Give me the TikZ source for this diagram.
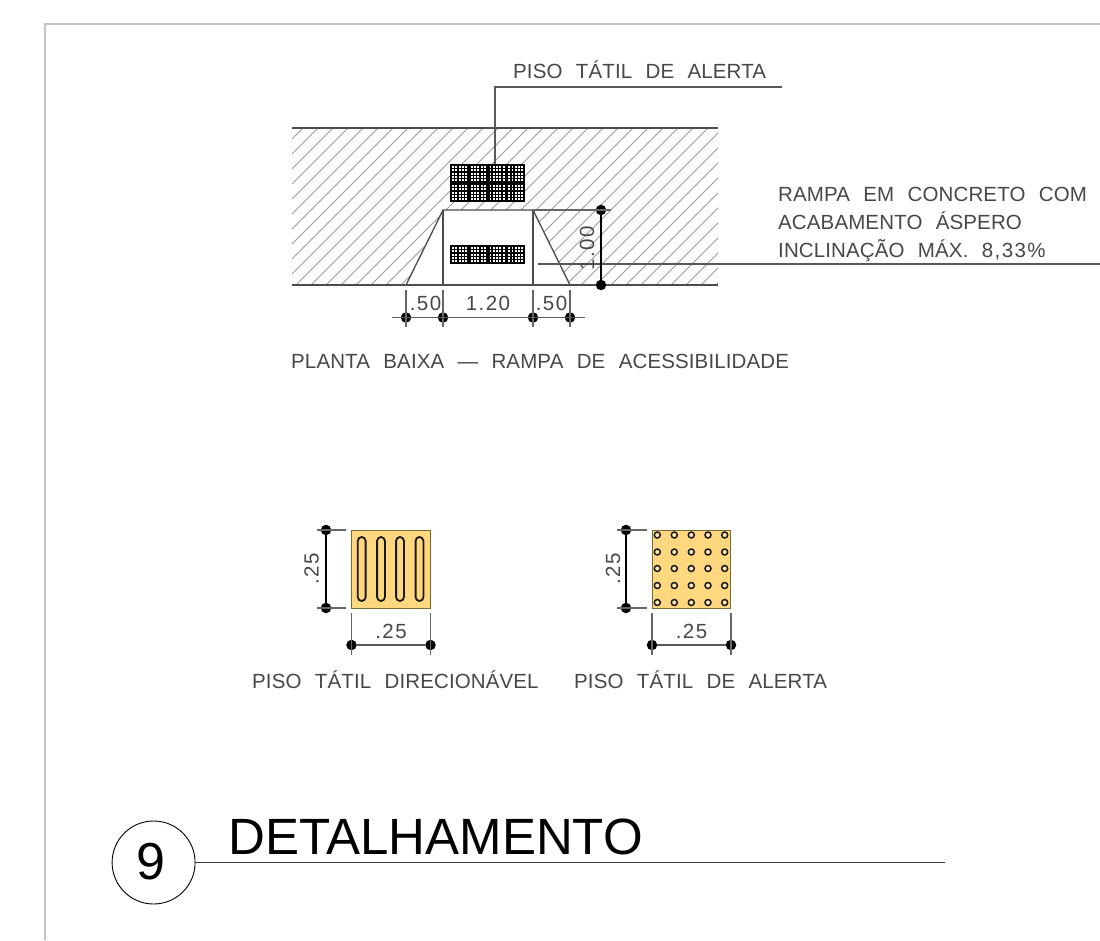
\documentclass[tikz,border=0pt]{standalone}
\usepackage{fontspec}
\setmainfont{Liberation Sans}
\newfontfamily\cadfont[LetterSpace=0.6,WordSpace=2.3]{Liberation Sans}
\newfontfamily\dimfont[LetterSpace=7]{Liberation Sans}
\definecolor{tileyellow}{HTML}{FFD77F}
\definecolor{tileedge}{HTML}{7A6A3A}
\definecolor{dimgray}{HTML}{666666}
\definecolor{hatchgray}{HTML}{9A9A9A}
\definecolor{framegray}{HTML}{C4C4C4}
\tikzset{
  cadtext/.style={font=\cadfont\fontsize{20.5}{20.5}\selectfont,text=black!72,inner sep=0,anchor=base west},
  dimtext/.style={font=\dimfont\fontsize{20.5}{20.5}\selectfont,text=black!72,inner sep=0},
  dimdot/.style={circle,fill=black,inner sep=0,minimum size=10.5pt},
  dimline/.style={draw=black!65,line width=1.1pt},
  extline/.style={draw=dimgray,line width=1.1pt},
  edgeline/.style={draw=black!70,line width=1.3pt},
  hatchline/.style={draw=hatchgray,line width=0.85pt},
  leader/.style={draw=black!65,line width=1.1pt},
  yellowtile/.style={fill=tileyellow,draw=tileedge,line width=0.9pt},
  slotbar/.style={draw=black!90,line width=1.8pt,rounded corners=3.9pt},
  stud/.style={circle,draw=black!90,line width=1.5pt,fill=tileyellow!60!white,inner sep=0,minimum size=6pt},
}
\newcommand{\gridtile}[4]{%
  \fill[black] (#1,#2) rectangle ++({#3*18.75},{#4*19});
  \foreach \cc in {1,...,#3}{\foreach \rr in {1,...,#4}{
    \foreach \ii in {0,...,4}{\foreach \jj in {0,...,4}{
      \fill[white] ({#1+(\cc-1)*18.75+2.0+\ii*3.3},{#2+(\rr-1)*19+2.1+\jj*3.3}) rectangle ++(1.9,1.9);
    }}
  }}
}
\begin{document}
\begin{tikzpicture}[x=1pt,y=-1pt]
\useasboundingbox (0,0) rectangle (1100,940);
\fill[white] (0,0) rectangle (1100,940);
% frame
\coordinate (frTL) at (45,24); \coordinate (frTR) at (1100,24); \coordinate (frBL) at (45,940);
\draw[framegray,line width=1.4pt] (frTR) -- (frTL) -- (frBL);

% hatched ground
\begin{scope}
\clip (292,128) rectangle (718,285);
\foreach \c in {0,...,60}{
  \draw[hatchline] ({431+15*\c-300},300) -- ({431+15*\c},0);
}
\end{scope}
\coordinate (gTL) at (292,128); \coordinate (gTR) at (718,128);
\coordinate (gBL) at (292,285); \coordinate (gBR) at (718,285);
\draw[edgeline] (gTL) -- (gTR);

% ramp
\coordinate (r1) at (406,285); \coordinate (r2) at (443,210);
\coordinate (r3) at (533,210); \coordinate (r4) at (570,285);
\coordinate (r2b) at (443,285); \coordinate (r3b) at (533,285);
\fill[white] (r1) -- (r2) -- (r3) -- (r4) -- cycle;
\draw[edgeline] (r1) -- (r2) -- (r3) -- (r4);
\draw[edgeline] (r2) -- (r2b);
\draw[edgeline] (r3) -- (r3b);
\draw[edgeline] (gBL) -- (gBR);

% tactile blocks
\gridtile{450}{164}{4}{2}
\gridtile{450}{245}{4}{1}

% leaders
\coordinate (l1a) at (495,164); \coordinate (l1b) at (495,87); \coordinate (l1c) at (782,87);
\draw[leader] (l1a) -- (l1b) -- (l1c);
\coordinate (l2a) at (538,264); \coordinate (l2b) at (1100,264);
\draw[leader] (l2a) -- (l2b);
\node[cadtext] (t1) at (513,78) {PISO TÁTIL DE ALERTA};
\node[cadtext] (t2) at (778,201.5) {RAMPA EM CONCRETO COM};
\node[cadtext] (t3) at (778,229.5) {ACABAMENTO ÁSPERO};
\node[cadtext] (t4) at (778,257) {INCLINAÇÃO MÁX. {\dimfont 8,33\%}};

% dimension 1.00
\node[dimdot] (d1) at (601,210) {};
\node[dimdot] (d2) at (601,285) {};
\coordinate (e1) at (611,210);
\draw[extline] (r3) -- (e1);
\draw[dimline,draw=black] (d1) -- (d2);
\node[dimtext,rotate=90] (t100) at (587,248) {1.00};

% base dimensions
\node[dimdot] (b1) at (406,317.5) {};
\node[dimdot] (b2) at (443,317.5) {};
\node[dimdot] (b3) at (533,317.5) {};
\node[dimdot] (b4) at (570,317.5) {};
\coordinate (bL) at (392,317.5); \coordinate (bR) at (585,317.5);
\draw[dimline] (bL) -- (bR);
\foreach \n/\x in {b1/406,b2/443,b3/533,b4/570}{
  \coordinate (top\n) at (\x,290); \coordinate (bot\n) at (\x,327);
  \draw[extline] (top\n) -- (bot\n);
}
\node[dimtext] (t50a) at (425.5,303) {.50};
\node[dimtext] (t120) at (488,303) {1.20};
\node[dimtext] (t50b) at (551.5,303) {.50};
\node[cadtext] (t5) at (291,368) {PLANTA BAIXA — RAMPA DE ACESSIBILIDADE};

% directional tile
\node[yellowtile,minimum width=78.5pt,minimum height=78pt,inner sep=0] (tileA) at (391,569) {};
\foreach \x in {361.7,381,400,419.5}{
  \draw[slotbar] (\x-3.9,537) rectangle (\x+3.9,601);
}
\node[dimdot] (a1) at (326,530) {};
\node[dimdot] (a2) at (326,608) {};
\coordinate (a1l) at (317,530); \coordinate (a2l) at (317,608);
\coordinate (a1r) at (346,530); \coordinate (a2r) at (346,608);
\draw[extline] (a1l) -- (a1r);
\draw[extline] (a2l) -- (a2r);
\draw[dimline,draw=black] (a1) -- (a2);
\node[dimtext,rotate=90] (ta1) at (311.5,569) {.25};
\node[dimdot] (a3) at (351.5,645) {};
\node[dimdot] (a4) at (430.5,645) {};
\coordinate (a3t) at (351.5,613); \coordinate (a3b) at (351.5,655);
\coordinate (a4t) at (430.5,613); \coordinate (a4b) at (430.5,655);
\draw[extline] (a3t) -- (a3b);
\draw[extline] (a4t) -- (a4b);
\draw[dimline] (a3) -- (a4);
\node[dimtext] (ta2) at (391,631) {.25};
\node[cadtext] (t6) at (252,688) {PISO TÁTIL DIRECIONÁVEL};

% alert tile
\node[yellowtile,minimum width=78.5pt,minimum height=78pt,inner sep=0] (tileB) at (691.5,569) {};
\foreach \x in {657.3,674.3,691.3,708,724.7}{
  \foreach \y in {535,552,568.5,585.5,602.5}{
    \node[stud] at (\x,\y) {};
  }
}
\node[dimdot] (c1) at (626,530) {};
\node[dimdot] (c2) at (626,608) {};
\coordinate (c1l) at (617,530); \coordinate (c2l) at (617,608);
\coordinate (c1r) at (647,530); \coordinate (c2r) at (647,608);
\draw[extline] (c1l) -- (c1r);
\draw[extline] (c2l) -- (c2r);
\draw[dimline,draw=black] (c1) -- (c2);
\node[dimtext,rotate=90] (tc1) at (613,569) {.25};
\node[dimdot] (c3) at (652,645) {};
\node[dimdot] (c4) at (731,645) {};
\coordinate (c3t) at (652,613); \coordinate (c3b) at (652,655);
\coordinate (c4t) at (731,613); \coordinate (c4b) at (731,655);
\draw[extline] (c3t) -- (c3b);
\draw[extline] (c4t) -- (c4b);
\draw[dimline] (c3) -- (c4);
\node[dimtext] (tc2) at (691.5,631) {.25};
\node[cadtext] (t7) at (574,688) {PISO TÁTIL DE ALERTA};

% title
\node[circle,draw=black,line width=0.9pt,minimum size=83pt,inner sep=0] (ring) at (153.6,862.5) {};
\node[inner sep=0,font=\fontsize{52}{52}\selectfont] (nine) at (150.8,862) {9};
\coordinate (tl) at (945,862.5);
\draw[draw=black!75,line width=1.1pt] (ring.east) -- (tl);
\node[inner sep=0,anchor=base west,font=\fontsize{51}{51}\selectfont] (title) at (228,854.5) {DETALHAMENTO};
\end{tikzpicture}
\end{document}
